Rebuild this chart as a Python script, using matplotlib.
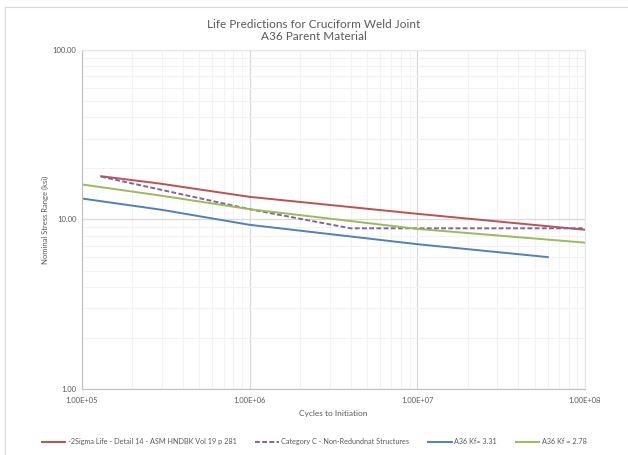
import matplotlib.pyplot as plt
from matplotlib.ticker import LogLocator, FixedLocator, NullFormatter

# Datos (ciclos, ksi)
rojo_n = [1.3e5, 2.9e5, 1e6, 1e7, 1e8]
rojo_s = [18.0, 16.3, 13.6, 10.8, 8.7]

morado_n = [1.3e5, 1e6, 4e6, 1e8]
morado_s = [17.9, 11.5, 8.87, 8.87]

azul_n = [1e5, 3e5, 1e6, 1e7, 6e7]
azul_s = [13.3, 11.4, 9.3, 7.15, 6.0]

verde_n = [1e5, 3e5, 1e6, 1e7, 1e8]
verde_s = [16.1, 13.8, 11.5, 8.8, 7.3]

etiquetas = ['-2Sigma Life - Detail 14 - ASM HNDBK Vol 19 p 281',
             'Category C - Non-Redundnat Structures',
             'A36 Kf= 3.31',
             'A36 Kf = 2.78']

x_ticks = [1e5, 1e6, 1e7, 1e8]
x_labels = ['1.00E+05', '1.00E+06', '1.00E+07', '1.00E+08']
y_ticks = [1, 10, 100]
y_labels = ['1.00', '10.00', '100.00']

plt.rcParams['font.family'] = ['Lato', 'DejaVu Sans']
gris = '#595959'

fig = plt.figure(figsize=(6.28, 4.55), dpi=100)
ax = fig.add_axes([0.1306, 0.1451, 0.8009, 0.745])

ax.plot(rojo_n, rojo_s, color='#C0504D', linewidth=1.4, label=etiquetas[0])
ax.plot(morado_n, morado_s, color='#8064A2', linewidth=1.4, linestyle=(0, (2.5, 1.2)), label=etiquetas[1])
ax.plot(azul_n, azul_s, color='#4F81BD', linewidth=1.4, label=etiquetas[2])
ax.plot(verde_n, verde_s, color='#9BBB59', linewidth=1.4, label=etiquetas[3])

ax.set_xscale('log')
ax.set_yscale('log')
ax.set_xlim(1e5, 1e8)
ax.set_ylim(1, 100)

ax.xaxis.set_major_locator(FixedLocator(x_ticks))
ax.set_xticklabels(x_labels)
ax.yaxis.set_major_locator(FixedLocator(y_ticks))
ax.set_yticklabels(y_labels)
ax.xaxis.set_minor_locator(LogLocator(base=10, subs=range(2, 10)))
ax.yaxis.set_minor_locator(LogLocator(base=10, subs=range(2, 10)))
ax.xaxis.set_minor_formatter(NullFormatter())
ax.yaxis.set_minor_formatter(NullFormatter())

ax.grid(which='major', color='#D9D9D9', linewidth=0.9)
ax.grid(which='minor', color='#F2F2F2', linewidth=0.8)
ax.set_axisbelow(True)

ax.tick_params(which='both', length=0, colors=gris, labelsize=5.5)
ax.tick_params(axis='x', pad=6)
ax.tick_params(axis='y', pad=4)

for lado in ['top', 'right']:
    ax.spines[lado].set_color('#E6E6E6')
for lado in ['left', 'bottom']:
    ax.spines[lado].set_color('#BFBFBF')

ax.set_xlabel('Cycles to Initiation', fontsize=6, color=gris, labelpad=4)
ax.set_ylabel('Nominal Stress Range (ksi)', fontsize=5.5, color=gris, labelpad=3)

fig.text(0.5, 0.933, 'Life Predictions for Cruciform Weld Joint\nA36 Parent Material',
         ha='center', va='center', fontsize=8.5, color=gris, linespacing=1.15)

fig.legend(loc='center', bbox_to_anchor=(0.5, 0.029), ncol=4, frameon=False,
           fontsize=5.2, labelcolor=gris, handlelength=3.3, columnspacing=2.6,
           handletextpad=0.3)

# borde del area del grafico
fig.add_artist(plt.Line2D([0.008, 0.008], [0, 0.985], color='#D9D9D9', linewidth=0.8))
fig.add_artist(plt.Line2D([0.008, 1], [0.985, 0.985], color='#D9D9D9', linewidth=0.8))

plt.savefig('out.png', dpi=100)
